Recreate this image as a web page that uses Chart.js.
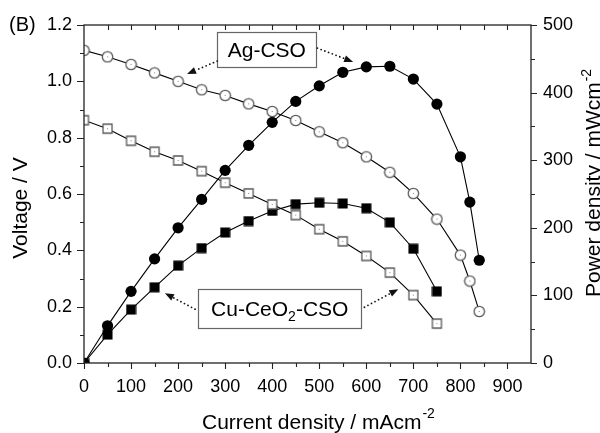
<!DOCTYPE html>
<html>
<head>
<meta charset="utf-8">
<script src="https://cdn.jsdelivr.net/npm/chart.js@4.4.1/dist/chart.umd.min.js"></script>
<style>
  html, body { margin: 0; padding: 0; background: #fff; }
  #wrap { width: 600px; height: 433px; }
</style>
</head>
<body>
<div id="wrap"><canvas id="chart" width="600" height="433"></canvas></div>
<script>
// current density, mA/cm2
const agCurrent = [0, 50, 100, 150, 200, 250, 300, 350, 400, 450, 500, 550, 600, 650, 700, 750, 800, 820, 840];
const cuCurrent = [0, 50, 100, 150, 200, 250, 300, 350, 400, 450, 500, 550, 600, 650, 700, 750];

// cell voltage, V
const agVoltage = [1.11, 1.087, 1.06, 1.03, 1.0, 0.97, 0.95, 0.92, 0.893, 0.861, 0.821, 0.782, 0.732, 0.677, 0.602, 0.511, 0.383, 0.291, 0.183];
const cuVoltage = [0.862, 0.832, 0.789, 0.75, 0.719, 0.681, 0.64, 0.602, 0.563, 0.525, 0.475, 0.432, 0.38, 0.321, 0.241, 0.14];

// power density, mW/cm2
const agPower = [0, 55, 106, 154, 200, 242, 285, 322, 356, 387, 410, 430, 438, 439, 420, 383, 305, 238, 152];
const cuPower = [0, 42, 79, 112, 144, 170, 193, 210, 225, 235, 237, 236, 229, 208, 169, 106];

const xTicks = [0, 100, 200, 300, 400, 500, 600, 700, 800, 900];
const voltTicks = [0, 0.2, 0.4, 0.6, 0.8, 1.0, 1.2];
const powerTicks = [0, 100, 200, 300, 400, 500];

const FONT = "'Liberation Sans', Arial, sans-serif";

function pairs(xs, ys) {
  return xs.map((x, i) => ({ x: x, y: ys[i] }));
}

// open markers with a small dot in the middle
function hollowMarker(shape) {
  const c = document.createElement('canvas');
  c.width = 13; c.height = 13;
  const g = c.getContext('2d');
  g.fillStyle = '#fff';
  g.strokeStyle = '#5a5a5a';
  g.lineWidth = 1.3;
  g.beginPath();
  if (shape === 'circle') g.arc(6.5, 6.5, 5.2, 0, Math.PI * 2);
  else g.rect(2, 2, 9, 9);
  g.fill();
  g.stroke();
  g.fillStyle = '#888';
  g.fillRect(6, 6, 1, 1);
  return c;
}

function filledSquare() {
  const c = document.createElement('canvas');
  c.width = 11; c.height = 11;
  const g = c.getContext('2d');
  g.fillStyle = '#000';
  g.fillRect(0.5, 0.5, 10, 10);
  return c;
}

function series(data, axis, marker, radius) {
  return {
    data: data,
    yAxisID: axis,
    showLine: true,
    borderColor: '#000',
    borderWidth: 1.1,
    pointStyle: marker,
    pointRadius: radius,
    pointBackgroundColor: '#000',
    pointBorderWidth: 0,
    clip: 0
  };
}

function setTicks(values) {
  return scale => { scale.ticks = values.map(v => ({ value: v })); };
}

function dottedArrow(ctx, x1, y1, x2, y2) {
  const dx = x2 - x1, dy = y2 - y1;
  const len = Math.hypot(dx, dy);
  const ux = dx / len, uy = dy / len;
  const head = 9;
  ctx.fillStyle = '#111';
  for (let d = 0; d < len - head; d += 4) {
    ctx.beginPath();
    ctx.arc(x1 + ux * d, y1 + uy * d, 0.9, 0, Math.PI * 2);
    ctx.fill();
  }
  ctx.beginPath();
  ctx.moveTo(x2, y2);
  ctx.lineTo(x2 - ux * head - uy * 3.5, y2 - uy * head + ux * 3.5);
  ctx.lineTo(x2 - ux * head + uy * 3.5, y2 - uy * head - ux * 3.5);
  ctx.closePath();
  ctx.fill();
}

// frame, tick marks, axis titles and the two labels with arrows
const decorations = {
  id: 'decorations',
  afterDatasetsDraw(chart) {
    const ctx = chart.ctx;
    const a = chart.chartArea;
    const sx = chart.scales.x, sy = chart.scales.y, sp = chart.scales.y1;
    ctx.save();

    ctx.strokeStyle = '#222';
    ctx.lineWidth = 1.3;
    ctx.strokeRect(a.left, a.top, a.right - a.left, a.bottom - a.top);

    ctx.lineWidth = 1.1;
    ctx.beginPath();
    for (let v = 0; v < 950; v += 50) {
      const px = Math.round(sx.getPixelForValue(v)) + 0.5;
      const len = v % 100 === 0 ? 6 : 4;
      ctx.moveTo(px, a.bottom); ctx.lineTo(px, a.bottom + len);
      if (v > 0) { ctx.moveTo(px, a.top); ctx.lineTo(px, a.top + 5); }
    }
    for (let i = 0; i <= 12; i++) {
      const py = Math.round(sy.getPixelForValue(i / 10)) + 0.5;
      ctx.moveTo(a.left, py); ctx.lineTo(a.left - (i % 2 === 0 ? 7 : 4), py);
    }
    for (let v = 0; v <= 500; v += 50) {
      const py = Math.round(sp.getPixelForValue(v)) + 0.5;
      ctx.moveTo(a.right, py); ctx.lineTo(a.right + (v % 100 === 0 ? 6 : 4), py);
    }
    ctx.stroke();

    ctx.fillStyle = '#000';
    ctx.textBaseline = 'alphabetic';

    ctx.font = '20px ' + FONT;
    ctx.textAlign = 'left';
    ctx.fillText('(B)', 9, 31);

    // left title
    ctx.font = '21px ' + FONT;
    ctx.save();
    ctx.translate(27, 208);
    ctx.rotate(-Math.PI / 2);
    ctx.textAlign = 'center';
    ctx.fillText('Voltage / V', 0, 0);
    ctx.restore();

    // right title, runs past the canvas edge
    ctx.save();
    ctx.translate(600, 297);
    ctx.rotate(-Math.PI / 2);
    ctx.textAlign = 'left';
    const rt = 'Power density / mWcm';
    ctx.fillText(rt, 0, 0);
    const rw = ctx.measureText(rt).width;
    ctx.font = '14px ' + FONT;
    ctx.fillText('-2', rw + 1, -9);
    ctx.restore();

    // bottom title
    ctx.font = '21px ' + FONT;
    const bt = 'Current density / mAcm';
    ctx.fillText(bt, 202, 429);
    const bw = ctx.measureText(bt).width;
    ctx.font = '14px ' + FONT;
    ctx.fillText('-2', 202 + bw + 1, 418);

    const X = v => sx.getPixelForValue(v);
    const Y = v => sy.getPixelForValue(v);

    // label boxes
    ctx.strokeStyle = '#666';
    ctx.lineWidth = 1.2;
    const boxes = [[283, 494, 1.175, 1.05], [243, 589, 0.262, 0.123]];
    boxes.forEach(b => {
      const l = Math.round(X(b[0])) + 0.5, r = Math.round(X(b[1])) + 0.5;
      const t = Math.round(Y(b[2])) + 0.5, btm = Math.round(Y(b[3])) + 0.5;
      ctx.fillStyle = '#fff';
      ctx.fillRect(l, t, r - l, btm - t);
      ctx.strokeRect(l, t, r - l, btm - t);
    });

    ctx.fillStyle = '#000';
    ctx.font = '21px ' + FONT;
    ctx.textAlign = 'center';
    ctx.fillText('Ag-CSO', (X(283) + X(494)) / 2, Y(1.05) - 10);

    ctx.textAlign = 'left';
    const p1 = 'Cu-CeO', p2 = '2', p3 = '-CSO';
    ctx.font = '21px ' + FONT;
    const w1 = ctx.measureText(p1).width, w3 = ctx.measureText(p3).width;
    ctx.font = '14px ' + FONT;
    const w2 = ctx.measureText(p2).width;
    let tx = (X(243) + X(589)) / 2 - (w1 + w2 + w3) / 2;
    const ty = Y(0.123) - 12;
    ctx.font = '21px ' + FONT;
    ctx.fillText(p1, tx, ty);
    ctx.font = '14px ' + FONT;
    ctx.fillText(p2, tx + w1, ty + 5);
    ctx.font = '21px ' + FONT;
    ctx.fillText(p3, tx + w1 + w2, ty);

    dottedArrow(ctx, X(283), Y(1.072), X(219), Y(1.026));
    dottedArrow(ctx, X(496), Y(1.118), X(572), Y(1.069));
    dottedArrow(ctx, X(236), Y(0.191), X(172), Y(0.248));
    dottedArrow(ctx, X(596), Y(0.198), X(668), Y(0.262));

    ctx.restore();
  }
};

const tickFont = { family: FONT, size: 18 };

new Chart(document.getElementById('chart'), {
  type: 'scatter',
  data: {
    datasets: [
      series(pairs(agCurrent, agVoltage), 'y', hollowMarker('circle'), 5),
      series(pairs(cuCurrent, cuVoltage), 'y', hollowMarker('square'), 5),
      series(pairs(agCurrent, agPower), 'y1', 'circle', 5.6),
      series(pairs(cuCurrent, cuPower), 'y1', filledSquare(), 5)
    ]
  },
  options: {
    responsive: false,
    animation: false,
    layout: { padding: { top: 25, left: 0, right: 0, bottom: 0 } },
    plugins: { legend: { display: false }, tooltip: { enabled: false } },
    scales: {
      x: {
        type: 'linear', position: 'bottom', min: 0, max: 950,
        afterBuildTicks: setTicks(xTicks),
        afterFit: s => { s.height = 70; },
        grid: { display: false, drawTicks: false },
        border: { display: false },
        ticks: { color: '#000', font: tickFont, padding: 13, maxRotation: 0, autoSkip: false }
      },
      y: {
        type: 'linear', position: 'left', min: 0, max: 1.2,
        afterBuildTicks: setTicks(voltTicks),
        afterFit: s => { s.width = 84; },
        grid: { display: false, drawTicks: false },
        border: { display: false },
        ticks: { color: '#000', font: tickFont, padding: 12, callback: v => v.toFixed(1) }
      },
      y1: {
        type: 'linear', position: 'right', min: 0, max: 500,
        afterBuildTicks: setTicks(powerTicks),
        afterFit: s => { s.width = 69; },
        grid: { display: false, drawTicks: false },
        border: { display: false },
        ticks: { color: '#000', font: tickFont, padding: 12 }
      }
    }
  },
  plugins: [decorations]
});
</script>
</body>
</html>
